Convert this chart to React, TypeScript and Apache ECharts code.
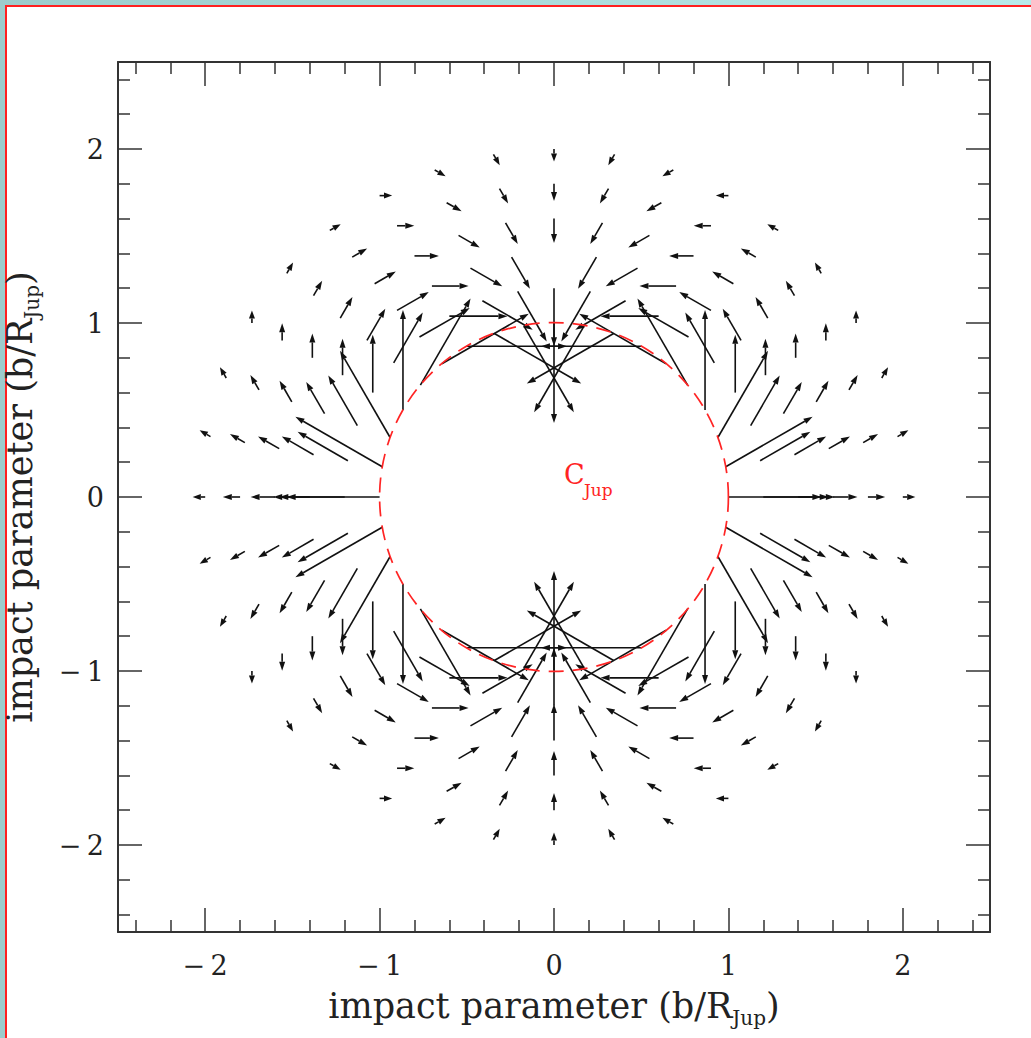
import React, { useEffect, useRef } from "react";
import * as echarts from "echarts";

// ---- data ----
const ringRadii = [1.0, 1.2, 1.4, 1.6, 1.8, 2.0];
const ringLengths = [0.575, 0.333, 0.21, 0.14, 0.099, 0.072];
const rayAngles = [
  0, 10, 20, 30, 40, 50, 60, 70, 80, 90, 100, 110, 120, 130, 140, 150, 160, 170,
  180, 190, 200, 210, 220, 230, 240, 250, 260, 270, 280, 290, 300, 310, 320, 330, 340, 350,
];
const arrowDirections = [
  0, 30, 60, 90, 120, 150, 180, 210, 240, 270, 300, 330,
  0, 30, 60, 90, 120, 150, 180, 210, 240, 270, 300, 330,
  0, 30, 60, 90, 120, 150, 180, 210, 240, 270, 300, 330,
];
// arrows absent in the picture: [ring radius, ray angle]
const absentArrows = [[1.4, 90]];
const planetRadius = [1.0];
const planetLabelPos = [0.057, 0.05];
const majorTicks = [-2, -1, 0, 1, 2];
const tickLabels = ["\u2212\u20092", "\u2212\u20091", "0", "1", "2"];
const minorTicks = [
  -2.4, -2.2, -1.8, -1.6, -1.4, -1.2, -0.8, -0.6, -0.4, -0.2,
  0.2, 0.4, 0.6, 0.8, 1.2, 1.4, 1.6, 1.8, 2.2, 2.4,
];

const FONT = "DejaVu Serif";
const INK = "#222";
const ARROW = "#111";
const RED = "#ff2424";

function buildArrows() {
  const out: number[][] = [];
  ringRadii.forEach((r, i) => {
    rayAngles.forEach((a, j) => {
      if (absentArrows.some(([ar, aa]) => ar === r && aa === a)) return;
      const t = (a * Math.PI) / 180;
      const d = (arrowDirections[j] * Math.PI) / 180;
      const L = ringLengths[i];
      out.push([r * Math.cos(t), r * Math.sin(t), L * Math.cos(d), L * Math.sin(d)]);
    });
  });
  return out;
}

function axisPair(kind: "x" | "y", position: string, showLabels: boolean) {
  const labelFmt = (v: number) => {
    const k = majorTicks.findIndex((m) => Math.abs(m - v) < 1e-9);
    return k >= 0 ? tickLabels[k] : "";
  };
  const major: any = {
    type: "value",
    min: -2.5,
    max: 2.5,
    position,
    splitLine: { show: false },
    axisLine: { show: true, onZero: false, lineStyle: { color: "#333", width: 2 } },
    axisTick: {
      show: true,
      inside: true,
      length: 24,
      customValues: majorTicks,
      lineStyle: { color: "#333", width: 1.5 },
    },
    axisLabel: {
      show: showLabels,
      customValues: majorTicks,
      formatter: labelFmt,
      fontFamily: FONT,
      fontSize: 27,
      color: INK,
      margin: kind === "x" ? 20 : 14,
    },
  };
  const minor: any = {
    type: "value",
    min: -2.5,
    max: 2.5,
    position,
    splitLine: { show: false },
    axisLine: { show: false, onZero: false },
    axisTick: {
      show: true,
      inside: true,
      length: 12,
      customValues: minorTicks,
      lineStyle: { color: "#333", width: 1.5 },
    },
    axisLabel: { show: false },
  };
  return [major, minor];
}

export default function App() {
  const ref = useRef<HTMLDivElement>(null);

  useEffect(() => {
    if (!ref.current) return;
    const chart = echarts.init(ref.current, null, { renderer: "svg" });
    const arrows = buildArrows();

    const titleStyle = {
      rich: {
        t: { fontFamily: FONT, fontSize: 35, color: INK, lineHeight: 44, verticalAlign: "middle" },
        s: { fontFamily: FONT, fontSize: 20, color: INK, lineHeight: 16, verticalAlign: "bottom" },
      },
    };
    const xs = [...axisPair("x", "bottom", true), ...axisPair("x", "top", false)];
    const ys = [...axisPair("y", "left", true), ...axisPair("y", "right", false)];
    xs[0].name = "{t|impact parameter (b/R}{s|Jup}{t|)}";
    xs[0].nameLocation = "middle";
    xs[0].nameGap = 52;
    xs[0].nameTextStyle = titleStyle;
    ys[0].name = "{t|impact parameter (b/R}{s|Jup}{t|)}";
    ys[0].nameLocation = "middle";
    ys[0].nameGap = 76;
    ys[0].nameRotate = 90;
    ys[0].nameTextStyle = titleStyle;

    const option: any = {
      animation: false,
      grid: {
        left: 118,
        top: 62,
        width: 872,
        height: 870,
        containLabel: false,
        outerBoundsMode: "none",
      },
      xAxis: xs,
      yAxis: ys,
      series: [
        {
          type: "custom",
          xAxisIndex: 0,
          yAxisIndex: 0,
          data: arrows,
          z: 2,
          renderItem: (params: any, api: any) => {
            const x0 = api.value(0);
            const y0 = api.value(1);
            const dx = api.value(2);
            const dy = api.value(3);
            const p0 = api.coord([x0, y0]);
            const p1 = api.coord([x0 + dx, y0 + dy]);
            const vx = p1[0] - p0[0];
            const vy = p1[1] - p0[1];
            const L = Math.hypot(vx, vy) || 1;
            const ux = vx / L;
            const uy = vy / L;
            const h = Math.min(9, L * 0.65);
            const w = 3;
            const bx = p1[0] - ux * h;
            const by = p1[1] - uy * h;
            return {
              type: "group",
              children: [
                {
                  type: "line",
                  shape: { x1: p0[0], y1: p0[1], x2: bx, y2: by },
                  style: { stroke: ARROW, lineWidth: 1.6 },
                },
                {
                  type: "polygon",
                  shape: {
                    points: [
                      [p1[0], p1[1]],
                      [bx - uy * w, by + ux * w],
                      [bx + uy * w, by - ux * w],
                    ],
                  },
                  style: { fill: ARROW },
                },
              ],
            };
          },
        },
        {
          type: "custom",
          xAxisIndex: 0,
          yAxisIndex: 0,
          data: [[0, 0, planetRadius[0]]],
          z: 3,
          renderItem: (params: any, api: any) => {
            const c = api.coord([api.value(0), api.value(1)]);
            const e = api.coord([api.value(0) + api.value(2), api.value(1)]);
            return {
              type: "circle",
              shape: { cx: c[0], cy: c[1], r: e[0] - c[0] },
              style: { fill: "none", stroke: RED, lineWidth: 1.7, lineDash: [15, 9] },
            };
          },
        },
        {
          type: "custom",
          xAxisIndex: 0,
          yAxisIndex: 0,
          data: [planetLabelPos],
          z: 4,
          renderItem: (params: any, api: any) => {
            const p = api.coord([api.value(0), api.value(1)]);
            return {
              type: "group",
              children: [
                {
                  type: "text",
                  x: p[0],
                  y: p[1],
                  style: {
                    text: "C",
                    fill: RED,
                    fontFamily: FONT,
                    fontSize: 27,
                    textAlign: "left",
                    textVerticalAlign: "bottom",
                  },
                },
                {
                  type: "text",
                  x: p[0] + 20,
                  y: p[1] + 10,
                  style: {
                    text: "Jup",
                    fill: RED,
                    fontFamily: FONT,
                    fontSize: 17,
                    textAlign: "left",
                    textVerticalAlign: "bottom",
                  },
                },
              ],
            };
          },
        },
      ],
    };
    chart.setOption(option);
    return () => chart.dispose();
  }, []);

  return (
    <div
      style={{
        position: "fixed",
        left: 0,
        top: 0,
        width: 1031,
        height: 1038,
        background: "linear-gradient(90deg, #9ccccc 0%, #b8eaea 100%)",
        overflow: "hidden",
      }}
    >
      <div
        style={{
          position: "absolute",
          left: 5,
          top: 5,
          right: 0,
          bottom: 0,
          background: "#fff",
          borderLeft: "2px solid #ff2020",
          borderTop: "2px solid #ff2020",
        }}
      />
      <div ref={ref} style={{ position: "absolute", left: 0, top: 0, width: 1031, height: 1038 }} />
    </div>
  );
}
